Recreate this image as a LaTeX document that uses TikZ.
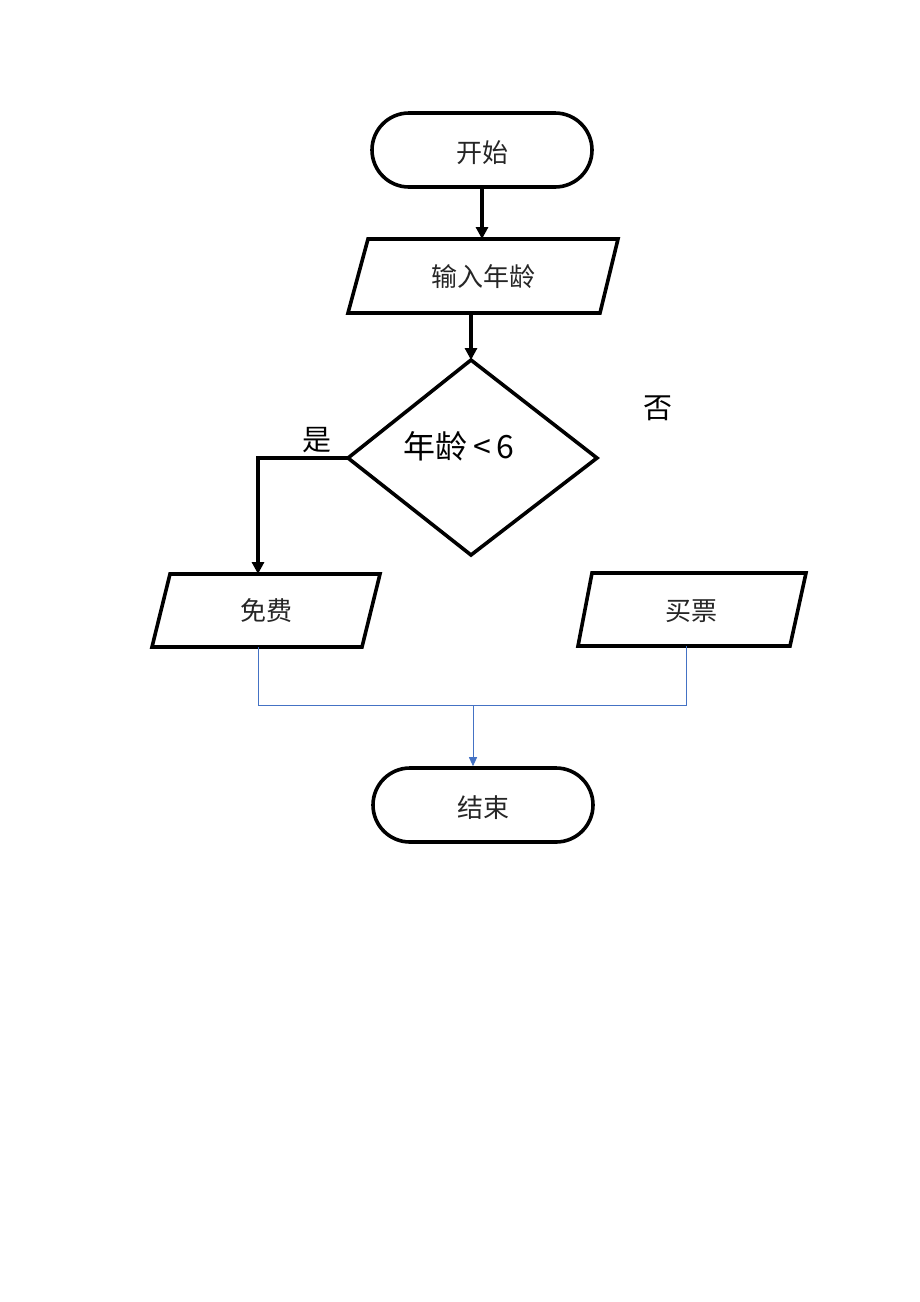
\documentclass[tikz,border=0pt]{standalone}
\usepackage{fontspec}
\newfontfamily\cjk{Noto Sans CJK SC}
\usetikzlibrary{shapes.misc,arrows.meta}
\definecolor{conblue}{HTML}{4472C4}
\begin{document}
\begin{tikzpicture}[x=1pt,y=-1pt,
  box/.style={draw=black,line width=3.6pt,line join=miter},
  term/.style={box,rounded rectangle,minimum width=220pt,minimum height=74pt,inner sep=0pt},
  lbl/.style={font=\cjk\fontsize{26}{30}\selectfont,text=black!85},
  big/.style={font=\cjk\fontsize{29}{33}\selectfont,text=black},
  thickarrow/.style={line width=3.6pt,-{Triangle[length=12pt,width=12pt]}},
  blueline/.style={conblue,line width=1pt},
  bluearrow/.style={conblue,line width=1pt,-{Triangle[length=9pt,width=8pt]}}]
\useasboundingbox (0,0) rectangle (920,1302);
% start
\node[term] (start) at (482,150) {};
\node[lbl] (starttxt) at (482,153) {开始};
% input
\draw[box] (368,239) -- (618,239) -- (600,313) -- (348,313) -- cycle;
\node[lbl] (inp) at (483,277) {输入年龄};
\coordinate (inpT) at (482,239);
\coordinate (inpB) at (471,313);
% decision
\draw[box] (471,360) -- (597,458) -- (471,555) -- (348,458) -- cycle;
\coordinate (decT) at (471,360);
\coordinate (decL) at (348,458);
\node[big,font=\cjk\fontsize{32}{36}\selectfont] (dec) at (459,446) {年龄\,<\,6};
\node[big] (yes) at (317,440) {是};
\node[big] (no) at (658,408) {否};
% free
\draw[box] (170,574) -- (380,574) -- (362,647) -- (152,647) -- cycle;
\node[lbl] (free) at (266,611) {免费};
\coordinate (freeT) at (258,574);
\coordinate (freeB) at (258,647);
% buy
\draw[box] (592,573) -- (806,573) -- (790,646) -- (578,646) -- cycle;
\node[lbl] (buy) at (691,611) {买票};
\coordinate (buyB) at (686,646);
% end
\node[term] (end) at (483,805) {};
\node[lbl] (endtxt) at (483,808) {结束};
\coordinate (join) at (473,705);
% connectors
\draw[thickarrow] (start.south) -- (inpT);
\draw[thickarrow] (inpB) -- (decT);
\draw[thickarrow] (decL) -- (258,458) -- (freeT);
\draw[blueline] (freeB) |- (join);
\draw[blueline] (buyB) |- (join);
\draw[bluearrow] (join) -- (join |- end.north);
\end{tikzpicture}
\end{document}
